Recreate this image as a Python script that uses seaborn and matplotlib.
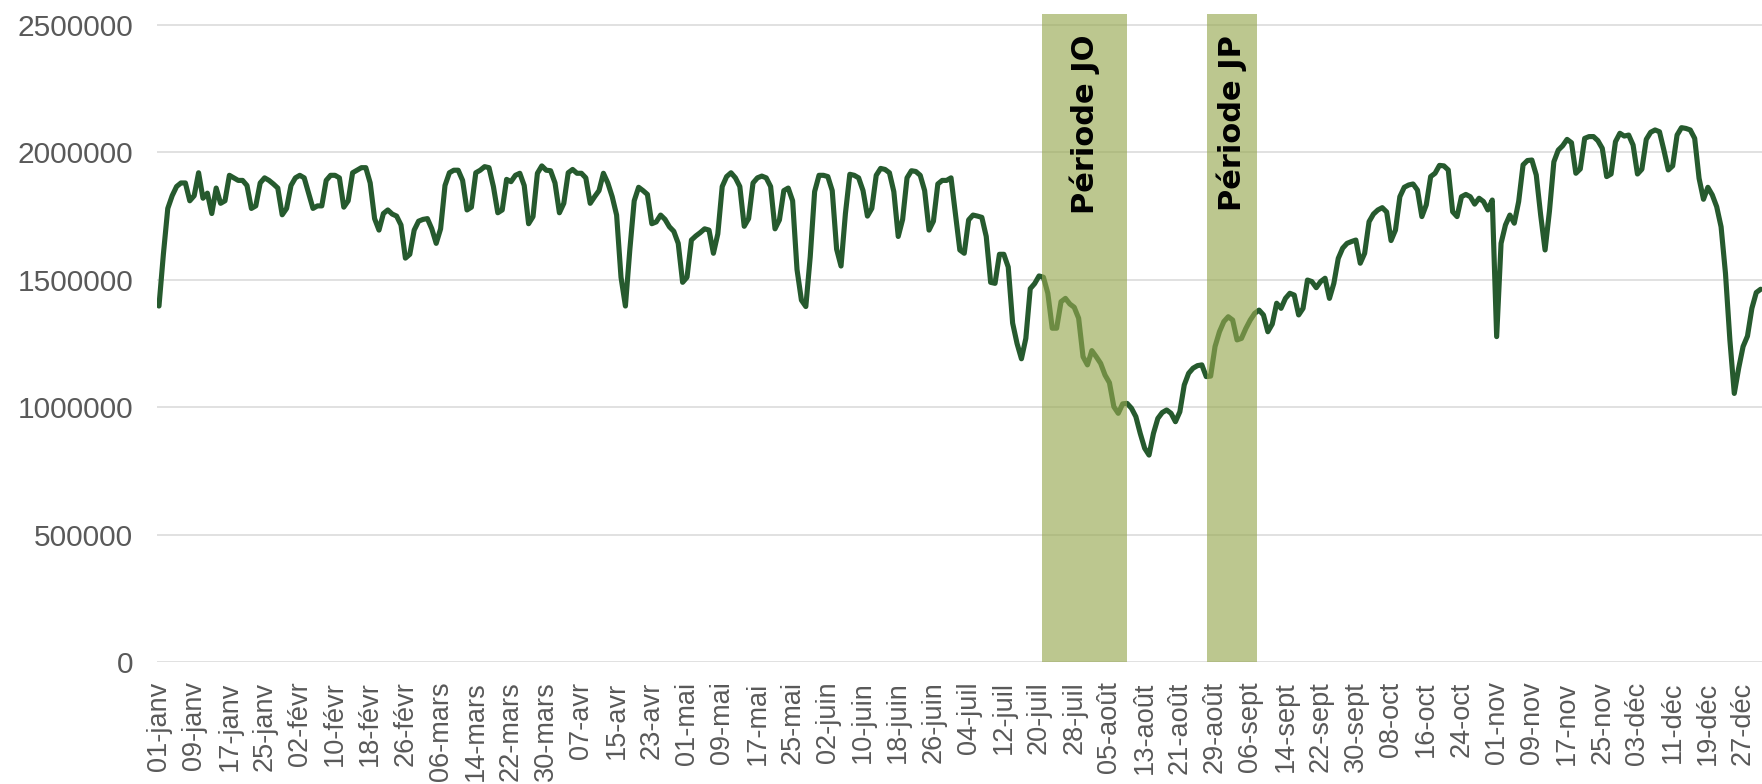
import numpy as np
import pandas as pd
import matplotlib
matplotlib.use("Agg")
import matplotlib.pyplot as plt
import seaborn as sns

# ---- data (values in thousands, one per day) ----
jan_k = [1397,1600,1780,1830,1866,1880,1880,1810,1830,1920,1820,1840,1760,1860,1800,1810,
         1910,1900,1890,1890,1870,1780,1790,1880,1900,1890,1876,1860,1755,1780,1870]
feb_k = [1900,1910,1900,1840,1780,1790,1790,1890,1910,1910,1900,1785,1810,1920,1930,1940,
         1940,1880,1740,1695,1760,1774,1758,1750,1715,1585,1600,1695]
mar_k = [1730,1737,1740,1700,1643,1700,1870,1920,1930,1930,1890,1774,1785,1920,1930,1944,
         1940,1866,1763,1774,1894,1885,1910,1918,1870,1720,1748,1918,1947,1930,1928]
apr_k = [1880,1763,1800,1920,1933,1918,1918,1900,1800,1826,1850,1918,1880,1826,1754,1510,
         1397,1617,1810,1863,1850,1835,1720,1727,1754,1737,1708,1690,1643,1490]
may_k = [1510,1656,1672,1685,1700,1695,1604,1680,1866,1905,1920,1900,1866,1710,1740,1880,
         1900,1907,1900,1866,1700,1735,1850,1860,1810,1540,1420,1395,1590,1846,1910]
jun_k = [1910,1905,1850,1620,1554,1760,1914,1910,1900,1850,1750,1780,1910,1937,1933,1920,
         1846,1670,1737,1900,1928,1925,1910,1850,1695,1730,1876,1890,1890,1900]
jul_k = [1760,1617,1604,1735,1754,1750,1745,1670,1490,1486,1600,1600,1550,1330,1250,1190,
         1270,1465,1485,1515,1510,1447,1310,1310,1414,1427,1405,1392,1349,1198,1166]
aug_k = [1222,1198,1172,1126,1096,1002,976,1013,1015,996,963,897,839,812,897,956,
         979,989,976,943,982,1087,1133,1153,1163,1166,1120,1122,1238,1296,1336]
sep_k = [1355,1342,1264,1270,1309,1342,1368,1381,1362,1296,1326,1408,1388,1427,1447,1440,
         1362,1388,1499,1493,1469,1493,1506,1427,1486,1584,1624,1643,1650,1656]
oct_k = [1565,1604,1728,1758,1774,1783,1766,1654,1695,1826,1863,1872,1876,1852,1748,1794,
         1905,1918,1949,1947,1931,1767,1748,1826,1835,1826,1797,1820,1807,1774,1813]
nov_k = [1277,1643,1715,1754,1722,1807,1951,1968,1970,1911,1754,1617,1770,1963,2009,2026,
         2051,2038,1918,1935,2055,2062,2062,2046,2016,1905,1915,2042,2075,2064]
dec_k = [2068,2029,1915,1934,2051,2079,2088,2081,2009,1931,1947,2068,2097,2094,2088,2055,
         1898,1816,1863,1833,1787,1708,1525,1264,1054,1153,1238,1279,1388,1450,1463]

tick_labels = ["01-janv","09-janv","17-janv","25-janv","02-févr","10-févr","18-févr","26-févr",
               "06-mars","14-mars","22-mars","30-mars","07-avr","15-avr","23-avr","01-mai",
               "09-mai","17-mai","25-mai","02-juin","10-juin","18-juin","26-juin","04-juil",
               "12-juil","20-juil","28-juil","05-août","13-août","21-août","29-août","06-sept",
               "14-sept","22-sept","30-sept","08-oct","16-oct","24-oct","01-nov","09-nov",
               "17-nov","25-nov","03-déc","11-déc","19-déc","27-déc"]
y_ticks = [0, 500000, 1000000, 1500000, 2000000, 2500000]

periods = ["Période JO", "Période JP"]
period_start = [200.7, 238.1]   # day index
period_end = [219.9, 249.5]

values = np.array(jan_k + feb_k + mar_k + apr_k + may_k + jun_k + jul_k + aug_k +
                  sep_k + oct_k + nov_k + dec_k) * 1000
df = pd.DataFrame({"jour": np.arange(len(values)), "valeur": values})

# ---- plot ----
sns.set_style("white")
plt.rcParams["font.family"] = ["Liberation Sans", "DejaVu Sans"]

fig = plt.figure(figsize=(17.62, 7.84), dpi=100)
ax = fig.add_axes([157/1762, 122/784, 1 - 157/1762, 662/784])

sns.lineplot(data=df, x="jour", y="valeur", ax=ax, color="#265a2e", linewidth=3.7,
             zorder=3)

ymax = 2.598e6
ax.set_xlim(-0.45, 364.3)
ax.set_ylim(0, ymax)

for name, s, e in zip(periods, period_start, period_end):
    ax.axvspan(s, e, ymin=0, ymax=2.545e6 / ymax, facecolor=(150/255, 168/255, 80/255),
               alpha=0.64, edgecolor="none", zorder=4)
    ax.text((s + e) / 2, 2.462e6, name, rotation=90, ha="center", va="top",
            fontsize=22, fontweight="bold", color="black", family="DejaVu Sans", zorder=5)

ax.set_yticks(y_ticks)
ax.set_yticklabels([str(v) for v in y_ticks])
ax.set_xticks(np.arange(0, 8 * len(tick_labels), 8))
ax.set_xticklabels(tick_labels, rotation=90)
ax.tick_params(axis="y", length=0, pad=17, labelsize=21.5, labelcolor="#595959")
ax.tick_params(axis="x", length=0, pad=14, labelsize=19.5, labelcolor="#595959")
ax.yaxis.grid(True, color="#d9d9d9", linewidth=1.1, zorder=0)
ax.xaxis.grid(False)
ax.set_axisbelow(True)
for sp in ax.spines.values():
    sp.set_visible(False)
ax.set_xlabel("")
ax.set_ylabel("")

fig.savefig("out.png", dpi=100)
